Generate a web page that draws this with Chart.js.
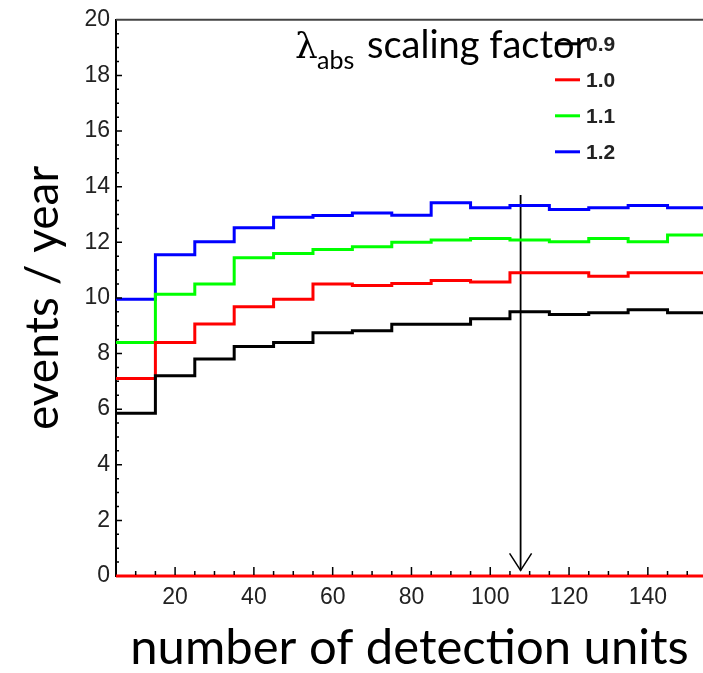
<!DOCTYPE html>
<html>
<head>
<meta charset="utf-8">
<script src="https://cdn.jsdelivr.net/npm/chart.js@4/dist/chart.umd.min.js"></script>
<style>
  html, body { margin: 0; padding: 0; background: #fff; }
</style>
</head>
<body>
<canvas id="eventsChart" width="703" height="673"></canvas>
<script>
// histogram bins over number of detection units (lower edges, width 10)
const binStarts = [5, 15, 25, 35, 45, 55, 65, 75, 85, 95, 105, 115, 125, 135, 145];
const binWidth = 10;

// lambda_abs scaling factors and events / year per bin
const factorLabels = ['0.9', '1.0', '1.1', '1.2'];
const events09 = [5.85, 7.2, 7.8, 8.25, 8.4, 8.75, 8.82, 9.05, 9.05, 9.25, 9.5, 9.4, 9.47, 9.57, 9.47];
const events10 = [7.1, 8.4, 9.06, 9.68, 9.95, 10.5, 10.45, 10.52, 10.63, 10.57, 10.9, 10.9, 10.78, 10.9, 10.9];
const events11 = [8.4, 10.13, 10.5, 11.44, 11.6, 11.74, 11.84, 12.0, 12.08, 12.14, 12.08, 12.02, 12.14, 12.02, 12.26];
const events12 = [9.95, 11.55, 12.02, 12.52, 12.9, 12.96, 13.05, 12.97, 13.42, 13.24, 13.32, 13.18, 13.24, 13.32, 13.24];
const factorColors = ['#000000', '#ff0000', '#00ff00', '#0000ff'];

// chosen detector size marker (arrow)
const markerX = 107.7;
const markerTop = 13.7;
const markerTip = 0.2;

const xTicks = [20, 40, 60, 80, 100, 120, 140];

// step histogram points: one per bin lower edge plus the closing upper edge
function histPoints(values) {
    const pts = binStarts.map((b, i) => ({ x: b, y: values[i] }));
    pts.push({ x: binStarts[binStarts.length - 1] + binWidth, y: values[values.length - 1] });
    return pts;
}

const allSeries = [events09, events10, events11, events12];
const datasets = allSeries.map((vals, i) => ({
    label: factorLabels[i],
    data: histPoints(vals),
    borderColor: factorColors[i],
    borderWidth: 3,
    stepped: 'before',   // horizontal across the bin, then the jump
    pointRadius: 0,
    fill: false
}));

// zero line along the axis
datasets.unshift({
    label: 'zero',
    data: histPoints(binStarts.map(() => 0)),
    borderColor: '#ff0000',
    borderWidth: 3,
    pointRadius: 0,
    clip: 4
});

datasets.push({
    label: 'marker',
    data: [{ x: markerX, y: markerTop }, { x: markerX, y: markerTip }],
    borderColor: '#000',
    borderWidth: 1.8,
    pointRadius: 0
});

// inner tick marks, top frame line, arrow head and the legend box
const frameDecor = {
    id: 'frameDecor',
    afterDatasetsDraw(chart) {
        const { ctx, chartArea: a, scales: { x, y } } = chart;
        ctx.save();
        ctx.strokeStyle = '#000';
        ctx.lineWidth = 1.5;
        ctx.beginPath();
        for (let v = 10; v <= x.max; v += 5) {
            const px = x.getPixelForValue(v);
            const len = v % 20 === 0 ? 8 : 4;
            ctx.moveTo(px, a.bottom - 1);
            ctx.lineTo(px, a.bottom - 1 - len);
        }
        for (let v = 0.5; v < 20; v += 0.5) {
            const py = y.getPixelForValue(v);
            const len = v % 2 === 0 ? 6 : 3;
            ctx.moveTo(a.left, py);
            ctx.lineTo(a.left + len, py);
        }
        ctx.stroke();

        ctx.strokeStyle = '#444';
        ctx.lineWidth = 2;
        ctx.beginPath();
        ctx.moveTo(a.left, a.top);
        ctx.lineTo(a.right, a.top);
        ctx.stroke();

        // open arrow head
        const tx = x.getPixelForValue(markerX);
        const ty = y.getPixelForValue(markerTip);
        ctx.strokeStyle = '#000';
        ctx.lineWidth = 1.5;
        ctx.beginPath();
        ctx.moveTo(tx - 11, ty - 17);
        ctx.lineTo(tx, ty);
        ctx.lineTo(tx + 11, ty - 17);
        ctx.stroke();

        // legend header
        const hx = a.left + 179;
        const hy = a.top + 38;
        ctx.fillStyle = '#000';
        ctx.textBaseline = 'alphabetic';
        ctx.textAlign = 'left';
        ctx.font = '36px "DejaVu Serif"';
        ctx.fillText('λ', hx, hy);
        ctx.font = '25px Lato';
        ctx.fillText('abs', hx + 22, hy + 11);
        ctx.font = '38px Lato';
        ctx.fillText('scaling factor', hx + 72, hy);

        // legend entries
        const lx = a.left + 439;
        ctx.font = 'bold 21px "Liberation Sans"';
        ctx.textBaseline = 'middle';
        factorLabels.forEach((lab, i) => {
            const ly = a.top + 24 + i * 36;
            ctx.strokeStyle = factorColors[i];
            ctx.lineWidth = 3;
            ctx.beginPath();
            ctx.moveTo(lx, ly);
            ctx.lineTo(lx + 25, ly);
            ctx.stroke();
            ctx.fillStyle = '#222';
            ctx.fillText(lab, lx + 31, ly + 1);
        });
        ctx.restore();
    }
};

const ctx = document.getElementById('eventsChart').getContext('2d');
const chart = new Chart(ctx, {
    type: 'line',
    data: { datasets: datasets },
    options: {
        responsive: false,
        animation: false,
        layout: { padding: { top: 18, right: 0, left: 0, bottom: 0 } },
        plugins: {
            legend: { display: false },
            tooltip: { enabled: false }
        },
        scales: {
            x: {
                type: 'linear',
                min: 5,
                max: 154,
                border: { display: true, color: '#000', width: 2 },
                grid: { display: false, drawTicks: false },
                afterBuildTicks: s => { s.ticks = xTicks.map(v => ({ value: v })); },
                ticks: {
                    autoSkip: false,
                    maxRotation: 0,
                    padding: 8,
                    color: '#222',
                    font: { family: '"Liberation Sans", Arial', size: 23 }
                },
                title: {
                    display: true,
                    text: 'number of detection units',
                    color: '#000',
                    font: { family: 'Lato', size: 49, lineHeight: 1 },
                    padding: { top: 0, bottom: 0 }
                },
                afterFit: s => { s.height = 97; }
            },
            y: {
                min: 0,
                max: 20,
                border: { display: true, color: '#000', width: 2 },
                grid: { display: false, drawTicks: false },
                ticks: {
                    stepSize: 2,
                    padding: 6,
                    color: '#222',
                    font: { family: '"Liberation Sans", Arial', size: 23 }
                },
                title: {
                    display: true,
                    text: 'events / year',
                    color: '#000',
                    font: { family: 'Lato', size: 46, lineHeight: 1 },
                    padding: { top: 20, bottom: 0 }
                },
                afterFit: s => { s.width = 116; }
            }
        }
    },
    plugins: [frameDecor]
});
</script>
</body>
</html>
